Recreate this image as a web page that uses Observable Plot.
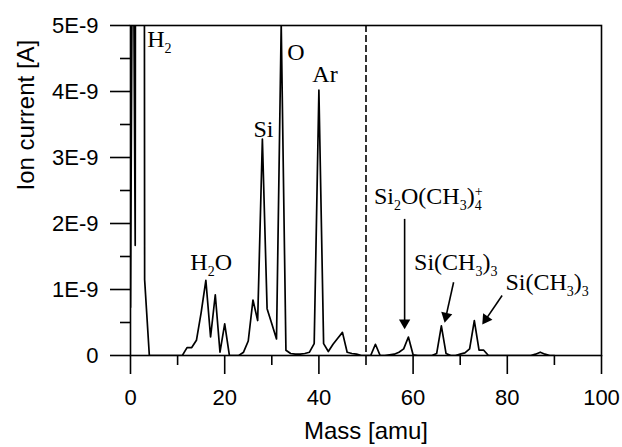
<!DOCTYPE html>
<html>
<head>
<meta charset="utf-8">
<script src="https://cdn.jsdelivr.net/npm/d3@7"></script>
<script src="https://cdn.jsdelivr.net/npm/@observablehq/plot@0.6"></script>
<style>
  html, body { margin: 0; padding: 0; background: white; }
</style>
</head>
<body>
<div id="chart"></div>
<script>
// ---- data (ion current in units of 1E-9 A) ----
const mass = [0, 0.5, 1, 2, 3, 4, 5, 6, 7, 8, 9, 10, 11, 12, 13, 14, 15, 16, 17, 18, 19, 20,
  21, 22, 23, 24, 25, 26, 27, 28, 29, 30, 31, 32, 33, 34, 35, 36, 37, 38, 39, 40,
  41, 42, 43, 44, 45, 46, 47, 48, 49, 50, 51, 52, 53, 54, 55, 56, 57, 58, 59, 60,
  61, 62, 63, 64, 65, 66, 67, 68, 69, 70, 71, 72, 73, 74, 75, 76, 77, 78, 79, 80,
  81, 82, 83, 84, 85, 86, 87, 88, 89, 90];
const current = [0.73, 8, 1.67, 90, 1.15, 0, 0, 0, 0, 0, 0, 0, 0, 0.12, 0.12, 0.23, 0.65, 1.14, 0.28, 0.92, 0.05, 0.48,
  0, 0, 0, 0.05, 0.22, 0.84, 0.53, 3.28, 0.71, 0.48, 0.25, 5.02, 0.08, 0.03, 0.02, 0.02, 0.03, 0.05, 0.18, 4.02,
  0.18, 0.06, 0.17, 0.26, 0.35, 0.05, 0.03, 0.02, 0, 0, 0, 0.17, 0, 0, 0.01, 0.02, 0.05, 0.1, 0.28, 0.01,
  0, 0, 0, 0, 0.03, 0.45, 0.03, 0, 0, 0.02, 0.04, 0.1, 0.53, 0.08, 0.08, 0, 0, 0, 0, 0,
  0, 0, 0, 0, 0, 0.02, 0.05, 0.02, 0, 0];

const massTicks = [0, 20, 40, 60, 80, 100];
const massMinorTicks = [10, 30, 50, 70, 90];
const currentTicks = [0, 1, 2, 3, 4, 5];
const currentMinorTicks = [0.5, 1.5, 2.5, 3.5, 4.5];
const currentTickLabels = ["0", "1E-9", "2E-9", "3E-9", "4E-9", "5E-9"];
const dividerMass = [50];

// peak labels: text, left mass, baseline current
const labelText = ["H_2", "H_2O", "Si", "O", "Ar", "Si_2O(CH_3)_4^+", "Si(CH_3)_3", "Si(CH_3)_3"];
const labelMass = [3.55, 12.7, 26.1, 33.3, 38.6, 51.7, 60.2, 79.6];
const labelCurrent = [4.67, 1.29, 3.31, 4.47, 4.14, 2.30, 1.29, 0.995];

// arrows: start and tip (mass, current)
const arrowFromMass = [58.2, 68.6, 78.9];
const arrowFromCurrent = [2.07, 1.11, 0.91];
const arrowToMass = [58.2, 66.7, 74.7];
const arrowToCurrent = [0.40, 0.50, 0.47];

// ---- layout ----
const W = 622, H = 447;
const mL = 130, mR = 21, mT = 25, mB = 92;
const kx = (W - mL - mR) / 100;   // px per amu
const ky = (H - mT - mB) / 5;     // px per 1E-9 A

const spectrum = mass.map((m, i) => ({mass: m, current: current[i]}));
const labels = labelText.map((t, i) => ({text: t, mass: labelMass[i], current: labelCurrent[i]}));

const arrows = arrowFromMass.map((m, i) => {
  const dxp = (arrowToMass[i] - m) * kx;
  const dyp = -(arrowToCurrent[i] - arrowFromCurrent[i]) * ky;
  const len = Math.hypot(dxp, dyp);
  const ux = dxp / len, uy = dyp / len;
  const back = (d) => ({mass: arrowToMass[i] - ux * d / kx, current: arrowToCurrent[i] + uy * d / ky});
  const shaftEnd = back(8), head = back(6.4);
  return {
    x1: m, y1: arrowFromCurrent[i], x2: shaftEnd.mass, y2: shaftEnd.current,
    hx: head.mass, hy: head.current,
    angle: Math.atan2(ux, -uy) * 180 / Math.PI
  };
});

const sans = "'Liberation Sans', Arial, Helvetica, sans-serif";
const serif = "'Liberation Serif', 'Times New Roman', Times, serif";

const chart = Plot.plot({
  width: W, height: H,
  marginLeft: mL, marginRight: mR, marginTop: mT, marginBottom: mB,
  x: {domain: [0, 100]},
  y: {domain: [0, 5]},
  style: {fontFamily: sans, fontSize: "22px", background: "white", color: "black"},
  marks: [
    Plot.axisX({ticks: massTicks, tickSize: 19, tickPadding: 15, fontSize: 22, label: null, strokeWidth: 1.6, tickFormat: d => String(d)}),
    Plot.axisX({ticks: massMinorTicks, tickSize: 10, label: null, strokeWidth: 1.6, tickFormat: () => ""}),
    Plot.axisY({ticks: currentTicks, tickSize: 20, tickPadding: 12, fontSize: 22, label: null, strokeWidth: 1.6,
      tickFormat: d => currentTickLabels[currentTicks.indexOf(d)]}),
    Plot.axisY({ticks: currentMinorTicks, tickSize: 10, label: null, strokeWidth: 1.6, tickFormat: () => ""}),
    Plot.ruleX(dividerMass, {stroke: "black", strokeWidth: 1.6, strokeDasharray: "7,3"}),
    Plot.line(spectrum, {x: "mass", y: "current", stroke: "black", strokeWidth: 1.7, clip: true}),
    Plot.frame({stroke: "black", strokeWidth: 1.6}),
    Plot.link(arrows, {x1: "x1", y1: "y1", x2: "x2", y2: "y2", stroke: "black", strokeWidth: 1.6}),
    Plot.dot(arrows, {x: "hx", y: "hy", symbol: "triangle", r: 4.2, fill: "black", stroke: "none", rotate: "angle"}),
    Plot.text(labels, {x: "mass", y: "current", text: "text", textAnchor: "start", lineAnchor: "middle",
      dy: -7.7, fontFamily: serif, fontSize: 24, fill: "black"}),
    Plot.text(["Mass [amu]"], {frameAnchor: "bottom", dy: 83, fontSize: 24, fontFamily: sans, fill: "black"}),
    Plot.text(["Ion current [A]"], {frameAnchor: "left", dx: -104, rotate: -90, fontSize: 24, fontFamily: sans, fill: "black"})
  ]
});

// rich text: "_x" subscript, "^x" superscript (stacked over a preceding subscript)
const NS = "http://www.w3.org/2000/svg";
const small = 14, subShift = 6, supShift = 8, subWidth = 7;
d3.select(chart).selectAll("text").each(function () {
  const s = this.textContent;
  if (!/[_^]/.test(s) || this.querySelector("tspan")) return;
  this.textContent = "";
  let i = 0, shift = 0, lastSub = false;
  while (i < s.length) {
    const c = s[i];
    const t = document.createElementNS(NS, "tspan");
    if (c === "_" || c === "^") {
      const target = c === "_" ? subShift : -supShift;
      t.setAttribute("dy", target - shift);
      shift = target;
      t.setAttribute("font-size", small);
      if (c === "^" && lastSub) t.setAttribute("dx", -subWidth);
      t.textContent = s[i + 1];
      lastSub = c === "_";
      i += 2;
    } else {
      let j = i;
      while (j < s.length && s[j] !== "_" && s[j] !== "^") j++;
      t.setAttribute("dy", -shift);
      shift = 0;
      t.textContent = s.slice(i, j);
      lastSub = false;
      i = j;
    }
    this.appendChild(t);
  }
});

document.getElementById("chart").appendChild(chart);
</script>
</body>
</html>
